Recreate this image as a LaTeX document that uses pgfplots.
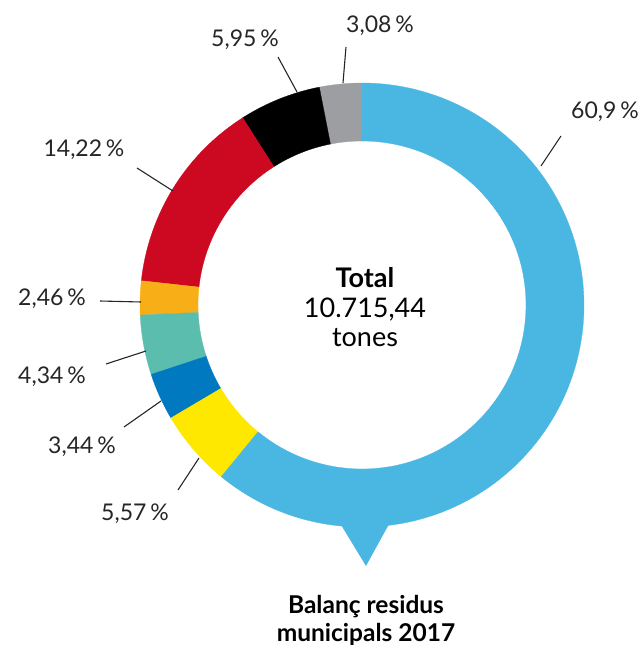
\documentclass[border=0pt]{standalone}
\usepackage{pgfplots}
\usepackage{pgfplotstable}
\pgfplotsset{compat=1.18}
\usepackage{fontspec}
\setmainfont{Lato}
\definecolor{cblue}{HTML}{4AB6E2}
\definecolor{cyellow}{HTML}{FFE800}
\definecolor{cdblue}{HTML}{0079C1}
\definecolor{cteal}{HTML}{5BBDAE}
\definecolor{corange}{HTML}{F8AE17}
\definecolor{cred}{HTML}{CD0921}
\definecolor{cblack}{HTML}{000000}
\definecolor{cgrey}{HTML}{9C9EA1}
\begin{document}
\begin{tikzpicture}[lab/.style={anchor=base,inner sep=0pt,text=black!85,font=\fontsize{23bp}{27bp}\selectfont}]
% shares (%), counter-clockwise from the top
\pgfplotstableread{
value color
3.08 cgrey
5.95 cblack
14.22 cred
2.46 corange
4.34 cteal
3.44 cdblue
5.57 cyellow
60.9 cblue
}\datatable
\pgfplotstablegetrowsof{\datatable}
\pgfmathtruncatemacro\nrows{\pgfplotsretval-1}
\xdef\tot{0}
\foreach \i in {0,...,\nrows}{
  \pgfplotstablegetelem{\i}{value}\of\datatable
  \pgfmathsetmacro\t{\tot+\pgfplotsretval}
  \xdef\tot{\t}
}
\xdef\cum{90}
\foreach \i in {0,...,\nrows}{
  \pgfplotstablegetelem{\i}{value}\of\datatable
  \pgfmathsetmacro\e{\cum+\pgfplotsretval/\tot*360}
  \expandafter\xdef\csname sa\i\endcsname{\cum}
  \expandafter\xdef\csname ea\i\endcsname{\e}
  \pgfplotstablegetelem{\i}{color}\of\datatable
  \expandafter\xdef\csname col\i\endcsname{\pgfplotsretval}
  \xdef\cum{\e}
}
\begin{axis}[x=1bp,y=1bp,xmin=0,xmax=643,ymin=0,ymax=645,
  hide axis,clip=false,anchor=south west,at={(0,0)}]
% tail
\fill[cblue] (axis cs:335,130) -- (axis cs:394,130) -- (axis cs:366,79) -- cycle;
\pgfplotsinvokeforeach{0,...,7}{
  \fill[fill=\csname col#1\endcsname, draw=\csname col#1\endcsname, line width=0.3pt]
    ([shift={(\csname sa#1\endcsname:222bp)}]axis cs:362,340)
    arc[start angle=\csname sa#1\endcsname, end angle=\csname ea#1\endcsname, radius=222bp]
    -- ([shift={(\csname ea#1\endcsname:164bp)}]axis cs:362,340)
    arc[start angle=\csname ea#1\endcsname, end angle=\csname sa#1\endcsname, radius=164bp]
    -- cycle;
}
% leader lines
\draw[line width=1.1pt,black!85] (axis cs:346,598) -- (axis cs:343,562);
\draw[line width=1.1pt,black!85] (axis cs:278,588) -- (axis cs:297,553);
\draw[line width=1.1pt,black!85] (axis cs:561,509) -- (axis cs:541,479);
\draw[line width=1.1pt,black!85] (axis cs:137,477) -- (axis cs:173,454);
\draw[line width=1.1pt,black!85] (axis cs:100,344) -- (axis cs:141,343);
\draw[line width=1.1pt,black!85] (axis cs:106,281) -- (axis cs:146,294);
\draw[line width=1.1pt,black!85] (axis cs:124,218) -- (axis cs:161,244);
\draw[line width=1.1pt,black!85] (axis cs:178,155) -- (axis cs:199,187);
% labels
\node[lab] at (axis cs:605,526) {60,9\,\%};
\node[lab] at (axis cs:380,612) {3,08\,\%};
\node[lab] at (axis cs:245,598) {5,95\,\%};
\node[lab] at (axis cs:84,488) {14,22\,\%};
\node[lab] at (axis cs:52,340) {2,46\,\%};
\node[lab] at (axis cs:52,262) {4,34\,\%};
\node[lab] at (axis cs:82,192) {3,44\,\%};
\node[lab] at (axis cs:135,125) {5,57\,\%};
\node[anchor=base,inner sep=0pt,font=\fontsize{27bp}{30bp}\selectfont\bfseries] at (axis cs:365,358) {Total};
\node[anchor=base,inner sep=0pt,font=\fontsize{27bp}{30bp}\selectfont] at (axis cs:365,328) {10.715,44};
\node[anchor=base,inner sep=0pt,font=\fontsize{27bp}{30bp}\selectfont] at (axis cs:365,299) {tones};
\node[anchor=base,inner sep=0pt,font=\fontsize{24.5bp}{28bp}\selectfont\bfseries] at (axis cs:366,32) {Balanç residus};
\node[anchor=base,inner sep=0pt,font=\fontsize{24.5bp}{28bp}\selectfont\bfseries] at (axis cs:366,4) {municipals 2017};
\end{axis}
\pgfresetboundingbox
\path[use as bounding box] (0,0) rectangle (643bp,645bp);
\end{tikzpicture}
\end{document}
